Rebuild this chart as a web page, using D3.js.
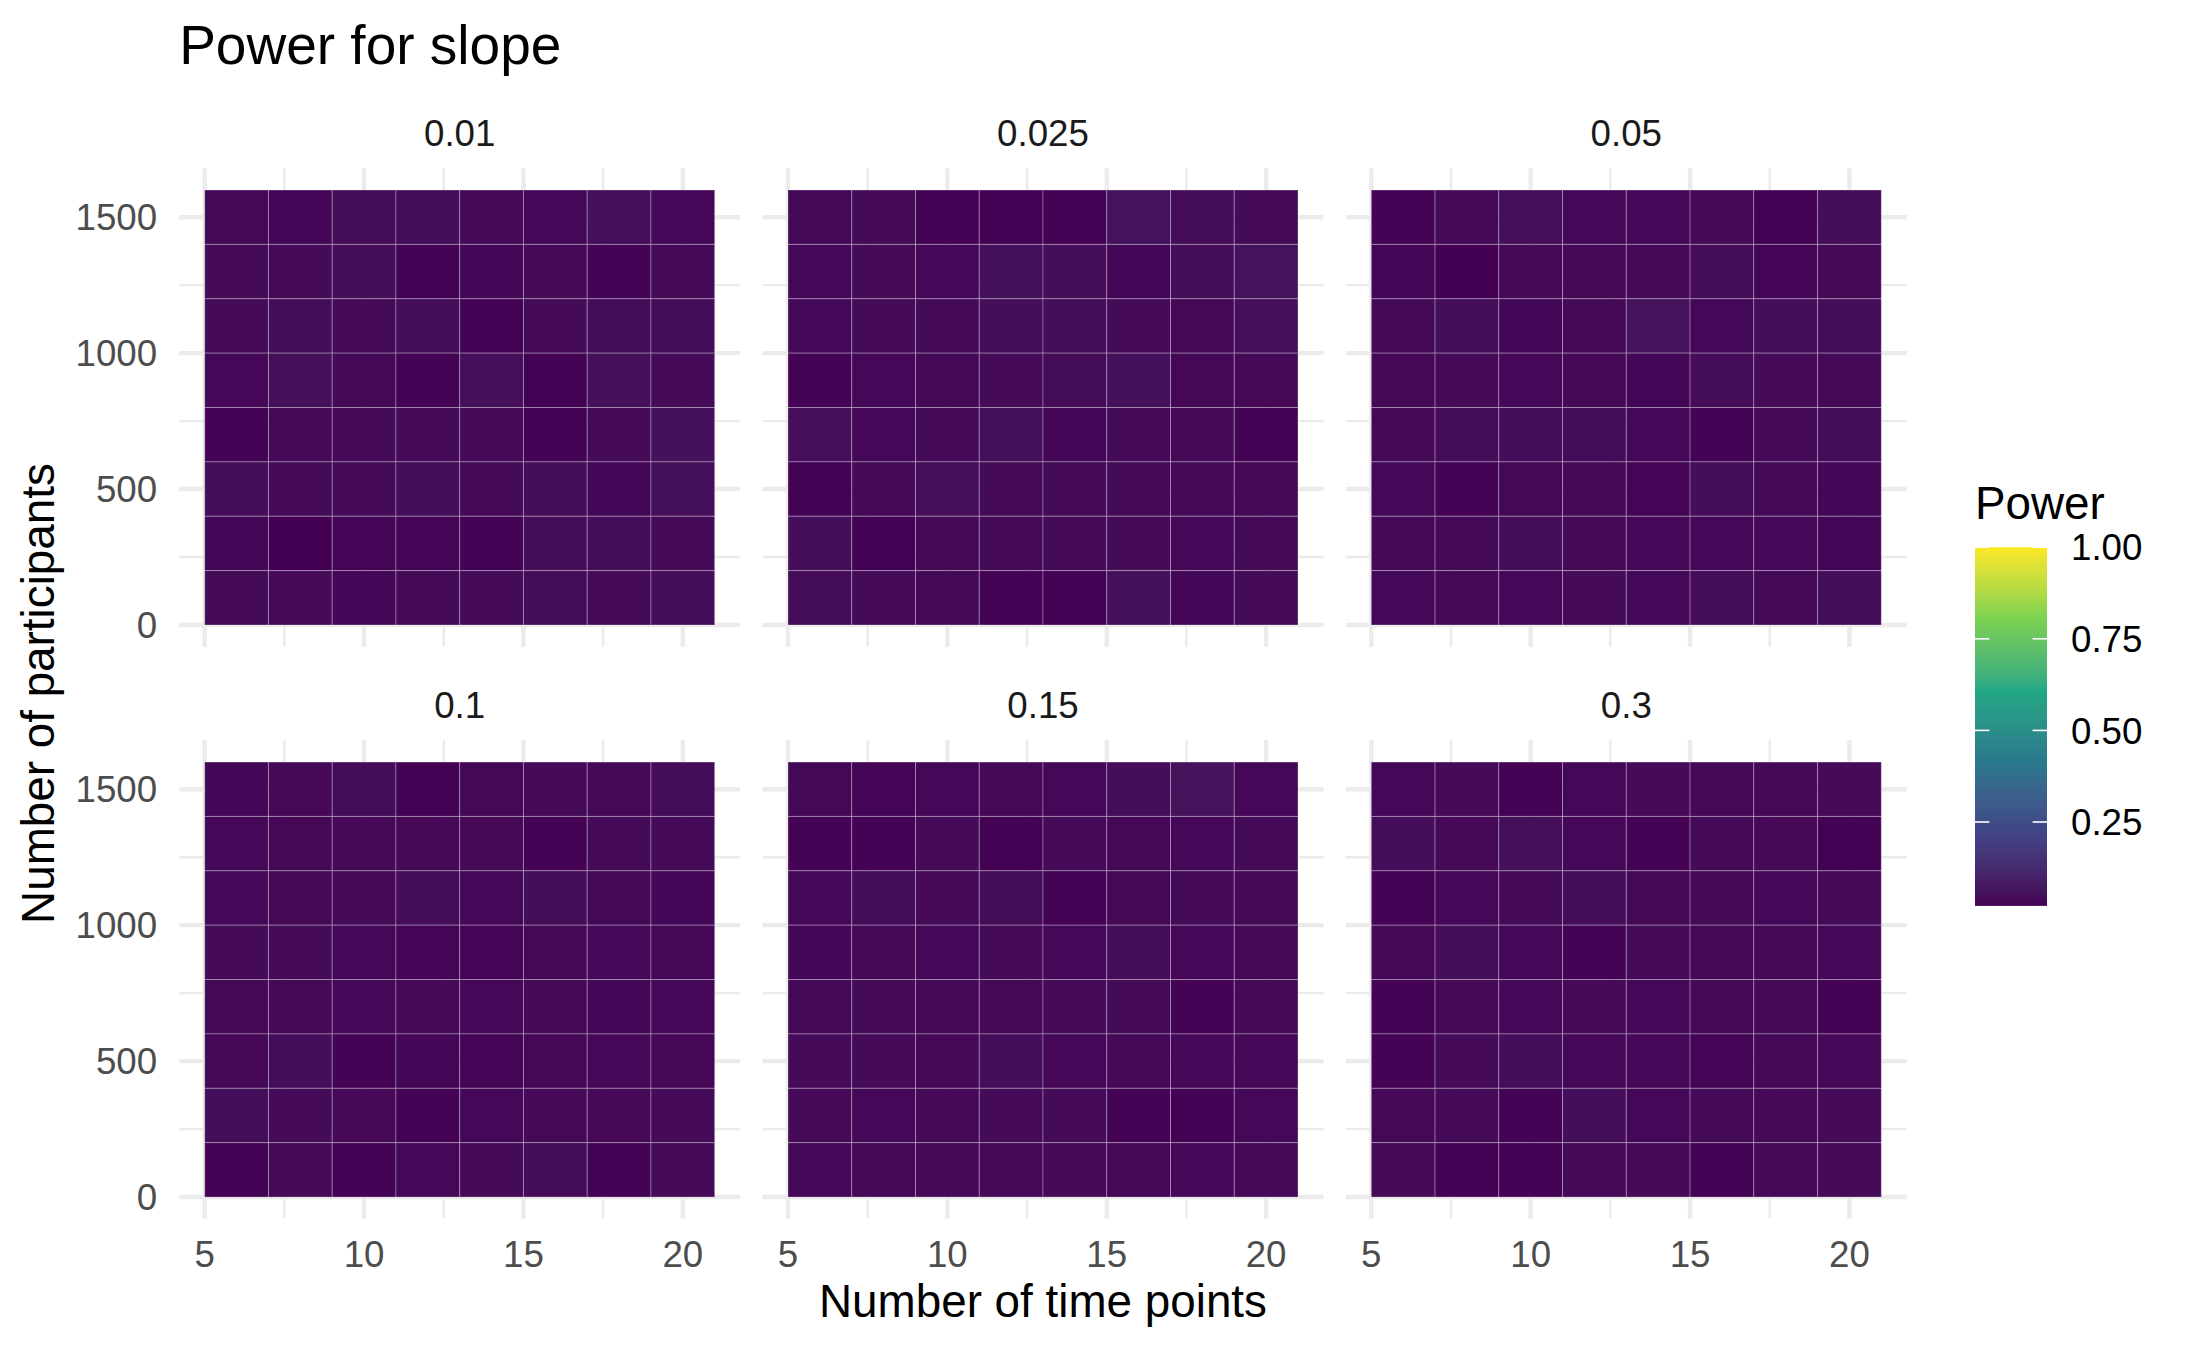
<!DOCTYPE html>
<html>
<head>
<meta charset="utf-8">
<script src="https://cdn.jsdelivr.net/npm/d3@7"></script>
<style>
  body { margin: 0; background: #fff; }
  text { font-family: "Liberation Sans", Arial, Helvetica, sans-serif; }
</style>
</head>
<body>
<svg id="chart" width="2187" height="1351"></svg>
<script>
// ---------------- DATA ----------------
const timePoints = [6, 8, 10, 12, 14, 16, 18, 20];
// rows listed from top (1500) to bottom (100)
const participants = [1500, 1300, 1100, 900, 700, 500, 300, 100];
const slopeLabels = ["0.01", "0.025", "0.05", "0.1", "0.15", "0.3"];
const xTicks = [5, 10, 15, 20];
const yTicks = [0, 500, 1000, 1500];
const legendTicks = [0.25, 0.50, 0.75, 1.00];

const power_0_01 = [
  [0.034,0.031,0.042,0.047,0.040,0.035,0.048,0.035],
  [0.038,0.041,0.043,0.023,0.030,0.041,0.025,0.040],
  [0.040,0.046,0.041,0.043,0.025,0.041,0.042,0.044],
  [0.035,0.048,0.036,0.026,0.049,0.024,0.049,0.040],
  [0.025,0.036,0.040,0.038,0.041,0.026,0.041,0.052],
  [0.043,0.041,0.040,0.046,0.040,0.043,0.032,0.050],
  [0.030,0.021,0.029,0.029,0.026,0.043,0.044,0.041],
  [0.040,0.038,0.031,0.041,0.041,0.042,0.041,0.044]
];
const power_0_025 = [
  [0.034,0.038,0.024,0.023,0.024,0.056,0.042,0.040],
  [0.035,0.040,0.035,0.050,0.043,0.032,0.044,0.058],
  [0.035,0.038,0.041,0.044,0.046,0.040,0.034,0.048],
  [0.026,0.035,0.036,0.041,0.042,0.053,0.034,0.036],
  [0.048,0.035,0.040,0.050,0.032,0.040,0.036,0.026],
  [0.024,0.040,0.049,0.041,0.040,0.041,0.036,0.036],
  [0.047,0.025,0.036,0.040,0.041,0.040,0.035,0.038],
  [0.042,0.041,0.036,0.025,0.024,0.050,0.032,0.038]
];
const power_0_05 = [
  [0.026,0.038,0.048,0.035,0.035,0.041,0.023,0.043],
  [0.031,0.022,0.036,0.036,0.036,0.042,0.028,0.036],
  [0.036,0.047,0.032,0.037,0.054,0.035,0.043,0.046],
  [0.036,0.040,0.035,0.037,0.032,0.043,0.041,0.036],
  [0.036,0.042,0.044,0.042,0.035,0.025,0.036,0.042],
  [0.035,0.025,0.034,0.040,0.028,0.043,0.036,0.032],
  [0.036,0.041,0.044,0.036,0.035,0.035,0.035,0.032],
  [0.035,0.036,0.035,0.041,0.035,0.042,0.034,0.047]
];
const power_0_1 = [
  [0.032,0.036,0.042,0.023,0.034,0.041,0.036,0.042],
  [0.035,0.034,0.036,0.037,0.037,0.026,0.041,0.040],
  [0.035,0.034,0.036,0.042,0.035,0.047,0.034,0.032],
  [0.040,0.041,0.035,0.029,0.028,0.036,0.035,0.034],
  [0.034,0.036,0.035,0.036,0.035,0.037,0.032,0.035],
  [0.034,0.047,0.026,0.032,0.028,0.034,0.035,0.034],
  [0.046,0.040,0.036,0.024,0.035,0.036,0.036,0.038],
  [0.023,0.040,0.026,0.035,0.041,0.042,0.026,0.041]
];
const power_0_15 = [
  [0.034,0.028,0.035,0.036,0.035,0.043,0.054,0.035],
  [0.026,0.025,0.041,0.024,0.041,0.034,0.035,0.041],
  [0.035,0.043,0.036,0.042,0.025,0.034,0.041,0.036],
  [0.032,0.034,0.035,0.041,0.035,0.042,0.035,0.036],
  [0.034,0.041,0.034,0.036,0.041,0.041,0.025,0.036],
  [0.041,0.041,0.036,0.047,0.035,0.036,0.035,0.035],
  [0.036,0.035,0.036,0.041,0.041,0.026,0.024,0.035],
  [0.035,0.034,0.036,0.036,0.040,0.034,0.035,0.036]
];
const power_0_3 = [
  [0.035,0.041,0.025,0.035,0.041,0.036,0.036,0.041],
  [0.043,0.036,0.048,0.035,0.026,0.041,0.036,0.024],
  [0.026,0.035,0.041,0.042,0.034,0.041,0.035,0.040],
  [0.036,0.043,0.035,0.026,0.041,0.036,0.036,0.035],
  [0.026,0.036,0.035,0.036,0.035,0.036,0.041,0.026],
  [0.026,0.041,0.043,0.035,0.035,0.028,0.036,0.035],
  [0.036,0.041,0.026,0.047,0.035,0.041,0.036,0.041],
  [0.041,0.023,0.026,0.036,0.041,0.026,0.036,0.041]
];
const powerBySlope = [power_0_01, power_0_025, power_0_05, power_0_1, power_0_15, power_0_3];
const viridis6 = ["#440154", "#414487", "#2A788E", "#22A884", "#7AD151", "#FDE725"];

// ---------------- LAYOUT ----------------
const svg = d3.select("#chart");
svg.append("rect").attr("width", 2187).attr("height", 1351).attr("fill", "#fff");

const panelW = 561, panelH = 478.5;
const panelLefts = [179.2, 762.5, 1345.8];
const panelTops = [168.25, 740.3];

const x = d3.scaleLinear().domain([4.2, 21.8]).range([0, panelW]);
const y = d3.scaleLinear().domain([-80, 1680]).range([panelH, 0]);

const allVals = powerBySlope.flat(2);
const vMin = d3.min(allVals), vMax = 1;
const color = d3.scaleLinear()
  .domain(d3.range(6).map(i => vMin + i * (vMax - vMin) / 5))
  .range(viridis6)
  .interpolate(d3.interpolateLab)
  .clamp(true);

const gridCol = "#ebebeb";
const xMinor = [7.5, 12.5, 17.5];
const yMinor = [250, 750, 1250];

slopeLabels.forEach((lab, i) => {
  const col = i % 3, row = Math.floor(i / 3);
  const g = svg.append("g").attr("transform", `translate(${panelLefts[col]},${panelTops[row]})`);

  // minor grid
  g.selectAll(".xm").data(xMinor).join("line")
    .attr("x1", d => x(d)).attr("x2", d => x(d)).attr("y1", 0).attr("y2", panelH)
    .attr("stroke", gridCol).attr("stroke-width", 2.4);
  g.selectAll(".ym").data(yMinor).join("line")
    .attr("y1", d => y(d)).attr("y2", d => y(d)).attr("x1", 0).attr("x2", panelW)
    .attr("stroke", gridCol).attr("stroke-width", 2.4);
  // major grid
  g.selectAll(".xM").data(xTicks).join("line")
    .attr("x1", d => x(d)).attr("x2", d => x(d)).attr("y1", 0).attr("y2", panelH)
    .attr("stroke", gridCol).attr("stroke-width", 4.4);
  g.selectAll(".yM").data(yTicks).join("line")
    .attr("y1", d => y(d)).attr("y2", d => y(d)).attr("x1", 0).attr("x2", panelW)
    .attr("stroke", gridCol).attr("stroke-width", 4.4);

  // tiles
  const cells = [];
  powerBySlope[i].forEach((r, ri) => r.forEach((v, ci) => {
    cells.push({ t: timePoints[ci], n: participants[ri], v });
  }));
  g.selectAll(".tile").data(cells).join("rect")
    .attr("x", d => x(d.t - 1)).attr("y", d => y(d.n + 100))
    .attr("width", d => x(d.t + 1) - x(d.t - 1))
    .attr("height", d => y(d.n - 100) - y(d.n + 100))
    .attr("fill", d => color(d.v))
    .attr("stroke", "rgba(255,255,255,0.28)").attr("stroke-width", 1);

  // strip label
  svg.append("text")
    .attr("x", panelLefts[col] + panelW / 2).attr("y", panelTops[row] - 22.3)
    .attr("text-anchor", "middle").attr("font-size", 36.7).attr("fill", "#1a1a1a")
    .text(lab);

  // y axis labels (left column only)
  if (col === 0) {
    svg.append("g").selectAll("text").data(yTicks).join("text")
      .attr("x", panelLefts[0] - 22).attr("y", d => panelTops[row] + y(d))
      .attr("dy", "0.36em").attr("text-anchor", "end")
      .attr("font-size", 36.7).attr("fill", "#4d4d4d").text(d => d);
  }
  // x axis labels (bottom row only)
  if (row === 1) {
    svg.append("g").selectAll("text").data(xTicks).join("text")
      .attr("x", d => panelLefts[col] + x(d)).attr("y", panelTops[1] + panelH + 48)
      .attr("text-anchor", "middle")
      .attr("font-size", 36.7).attr("fill", "#4d4d4d").text(d => d);
  }
});

// title
svg.append("text").attr("x", 179.2).attr("y", 63.5)
  .attr("font-size", 55).attr("fill", "#000").text("Power for slope");

// axis titles
svg.append("text").attr("x", (panelLefts[0] + panelLefts[2] + panelW) / 2).attr("y", 1316.7)
  .attr("text-anchor", "middle").attr("font-size", 45.8).attr("fill", "#000")
  .text("Number of time points");
const yMid = (panelTops[0] + panelTops[1] + panelH) / 2;
svg.append("text").attr("transform", `translate(54,${yMid}) rotate(-90)`)
  .attr("text-anchor", "middle").attr("font-size", 45.8).attr("fill", "#000")
  .text("Number of participants");

// ---------------- LEGEND ----------------
const barX = 1975, barW = 72;
const ly = d3.scaleLinear().domain([0, 1]).range([913.6, 547.2]);
const defs = svg.append("defs");
const grad = defs.append("linearGradient").attr("id", "vgrad")
  .attr("x1", 0).attr("y1", 1).attr("x2", 0).attr("y2", 0);
d3.range(0, 1.0001, 0.02).forEach(f => {
  const v = vMin + f * (vMax - vMin);
  grad.append("stop").attr("offset", f).attr("stop-color", color(v));
});
svg.append("rect").attr("x", barX).attr("y", ly(vMax)).attr("width", barW)
  .attr("height", ly(vMin) - ly(vMax)).attr("fill", "url(#vgrad)");
const lg = svg.append("g");
lg.selectAll(".tl").data(legendTicks).join("line")
  .attr("x1", barX).attr("x2", barX + 14.4).attr("y1", d => ly(d)).attr("y2", d => ly(d))
  .attr("stroke", "#fff").attr("stroke-width", 1.6);
lg.selectAll(".tr").data(legendTicks).join("line")
  .attr("x1", barX + barW - 14.4).attr("x2", barX + barW).attr("y1", d => ly(d)).attr("y2", d => ly(d))
  .attr("stroke", "#fff").attr("stroke-width", 1.6);
lg.selectAll("text").data(legendTicks).join("text")
  .attr("x", barX + barW + 24).attr("y", d => ly(d)).attr("dy", "0.36em")
  .attr("font-size", 36.7).attr("fill", "#000").text(d => d3.format(".2f")(d));
svg.append("text").attr("x", 1975).attr("y", 519)
  .attr("font-size", 45.8).attr("fill", "#000").text("Power");
</script>
</body>
</html>
